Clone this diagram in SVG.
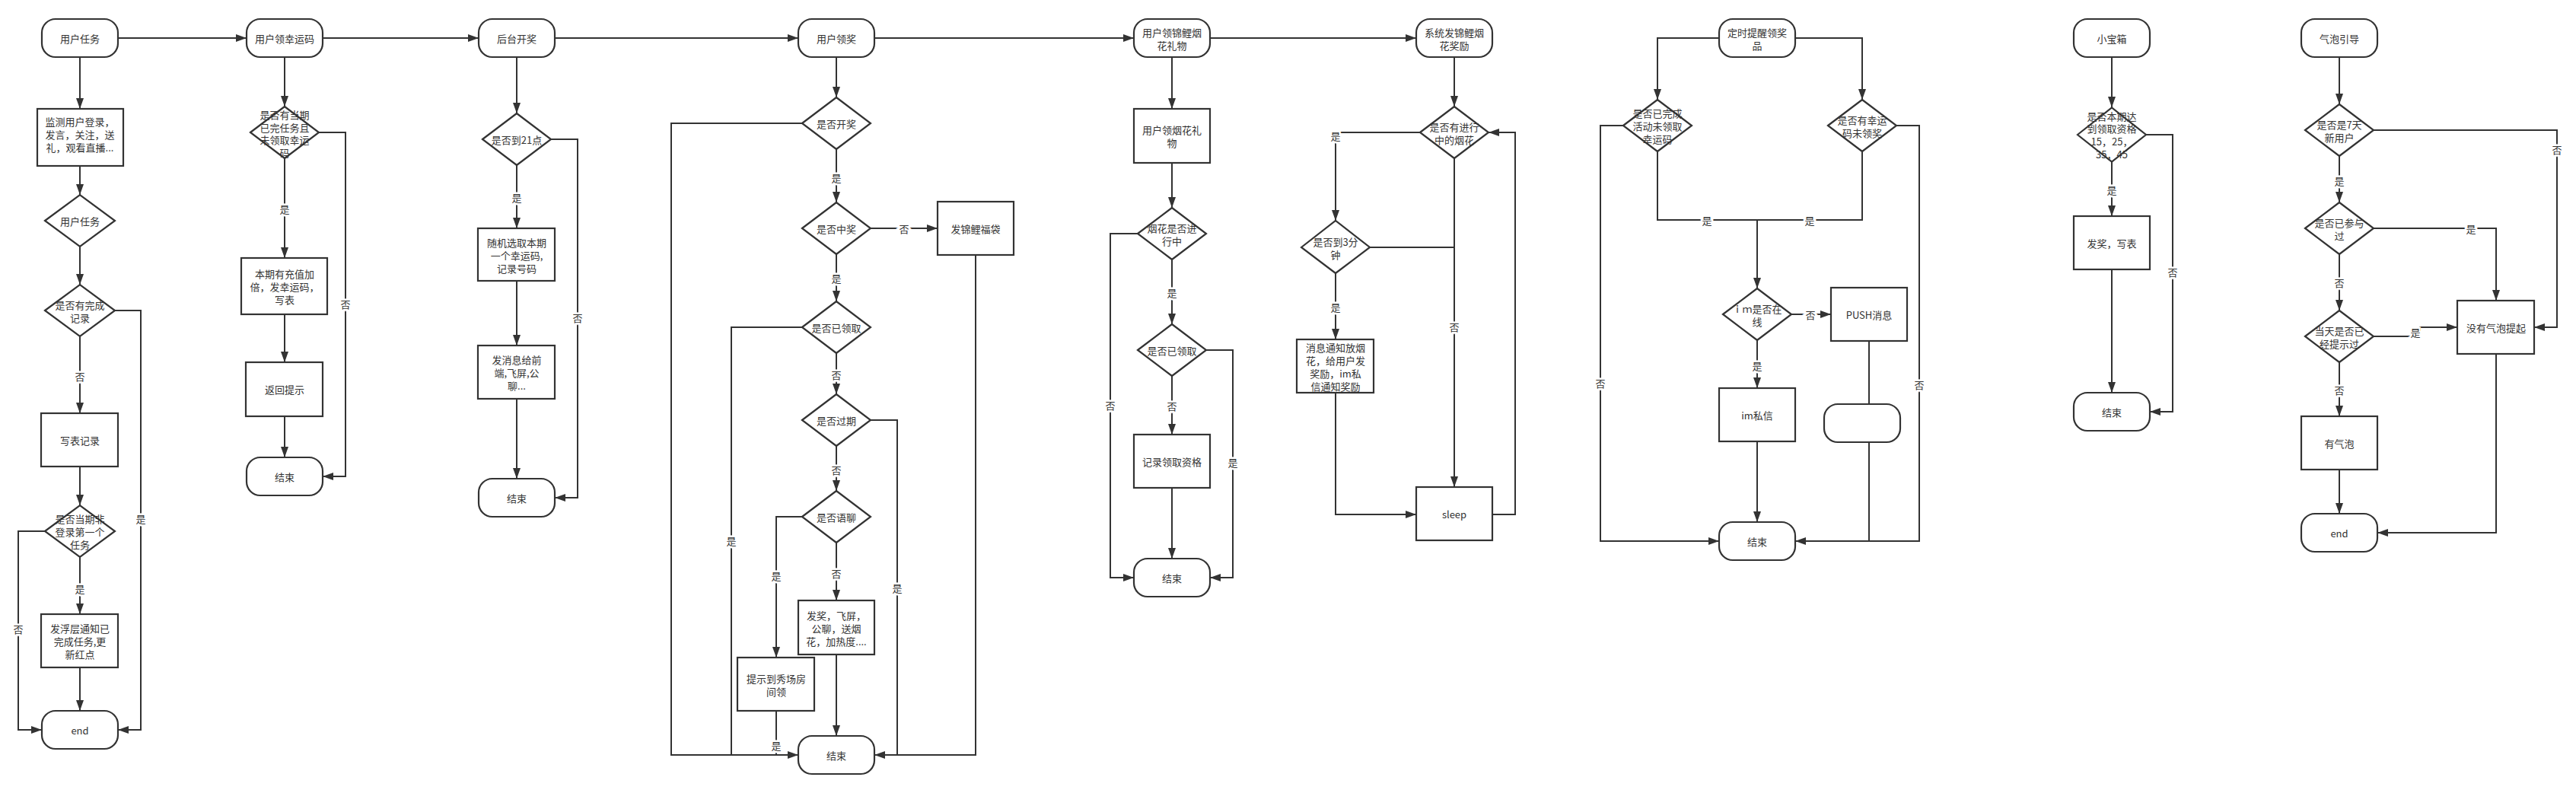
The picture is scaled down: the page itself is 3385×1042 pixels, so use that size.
<svg xmlns="http://www.w3.org/2000/svg" width="3385" height="1042" viewBox="0 0 3385 1042">
<defs>
<marker id="a" markerUnits="userSpaceOnUse" markerWidth="14" markerHeight="10" refX="14" refY="5" orient="auto"><path d="M0,0 L14,5 L0,10 z" fill="#333"/></marker>
<style>
.n{fill:#fff;stroke:#333;stroke-width:2.2}
.t{font-family:"Noto Sans CJK SC","Liberation Sans",sans-serif;font-size:13px;fill:#333;text-anchor:middle;dominant-baseline:central}
.c{fill:none;stroke:#333;stroke-width:2}
.ca{fill:none;stroke:#333;stroke-width:2;marker-end:url(#a)}
.l{font-family:"Noto Sans CJK SC","Liberation Sans",sans-serif;font-size:13px;fill:#333;text-anchor:middle;dominant-baseline:central;paint-order:stroke;stroke:#fff;stroke-width:5px}
</style>
</defs>
<rect width="3385" height="1042" fill="#fff"/>
<g id="connectors">
<!-- top chain -->
<path class="ca" d="M155,50 H324"/>
<path class="ca" d="M424,50 H629"/>
<path class="ca" d="M729,50 H1049"/>
<path class="ca" d="M1149,50 H1490"/>
<path class="ca" d="M1590,50 H1861"/>
<!-- column 1 -->
<path class="ca" d="M105,75 V143"/>
<path class="ca" d="M105,218 V256"/>
<path class="ca" d="M105,324 V374"/>
<path class="ca" d="M105,442 V543"/>
<path class="ca" d="M151,408 H185 V959 H155"/>
<path class="ca" d="M105,613 V664"/>
<path class="ca" d="M105,732 V807"/>
<path class="ca" d="M59,698 H24 V959 H55"/>
<path class="ca" d="M105,877 V934"/>
<!-- column 2 -->
<path class="ca" d="M374,75 V140"/>
<path class="ca" d="M374,208 V339"/>
<path class="ca" d="M374,413 V476"/>
<path class="ca" d="M374,547 V601"/>
<path class="ca" d="M419,174 H454 V626 H424"/>
<!-- column 3 -->
<path class="ca" d="M679,75 V149"/>
<path class="ca" d="M679,217 V300"/>
<path class="ca" d="M679,369 V454"/>
<path class="ca" d="M679,524 V629"/>
<path class="ca" d="M724,183 H759 V654 H729"/>
<!-- column 4 -->
<path class="ca" d="M1099,75 V128"/>
<path class="ca" d="M1054,162 H882 V992 H1049"/>
<path class="ca" d="M1099,196 V266"/>
<path class="ca" d="M1144,300 H1232"/>
<path class="ca" d="M1099,334 V396"/>
<path class="c" d="M1054,430 H961 V992"/>
<path class="ca" d="M1099,464 V518"/>
<path class="c" d="M1144,552 H1179 V992"/>
<path class="ca" d="M1282,335 V992 H1149"/>
<path class="ca" d="M1099,586 V645"/>
<path class="ca" d="M1054,679 H1020 V864"/>
<path class="ca" d="M1099,713 V789"/>
<path class="ca" d="M1099,860 V967"/>
<path class="c" d="M1020,934 V992"/>
<!-- column 5 -->
<path class="ca" d="M1540,75 V143"/>
<path class="ca" d="M1540,214 V273"/>
<path class="ca" d="M1495,307 H1459 V759 H1490"/>
<path class="ca" d="M1540,341 V426"/>
<path class="ca" d="M1585,460 H1620 V759 H1590"/>
<path class="ca" d="M1540,494 V571"/>
<path class="ca" d="M1540,641 V734"/>
<!-- column 6 -->
<path class="ca" d="M1911,75 V140"/>
<path class="ca" d="M1866,174 H1755 V290"/>
<path class="ca" d="M1911,208 V640"/>
<path class="c" d="M1800,325 H1911"/>
<path class="ca" d="M1755,359 V446"/>
<path class="ca" d="M1755,516 V676 H1861"/>
<path class="ca" d="M1961,676 H1991 V174 H1956"/>
<!-- column 7 -->
<path class="ca" d="M2259,50 H2178 V131"/>
<path class="ca" d="M2359,50 H2447 V131"/>
<path class="c" d="M2178,199 V289 H2447 V199"/>
<path class="ca" d="M2309,289 V379"/>
<path class="ca" d="M2133,165 H2103 V711 H2259"/>
<path class="ca" d="M2354,413 H2406"/>
<path class="ca" d="M2309,447 V510"/>
<path class="ca" d="M2309,580 V686"/>
<path class="c" d="M2456,448 V531"/>
<path class="c" d="M2456,581 V711"/>
<path class="ca" d="M2492,165 H2522 V711 H2359"/>
<!-- column 8 -->
<path class="ca" d="M2775,75 V141"/>
<path class="ca" d="M2775,213 V284"/>
<path class="ca" d="M2775,354 V516"/>
<path class="ca" d="M2820,177 H2855 V541 H2825"/>
<!-- column 9 -->
<path class="ca" d="M3074,75 V137"/>
<path class="ca" d="M3119,171 H3360 V430 H3330"/>
<path class="ca" d="M3074,205 V266"/>
<path class="ca" d="M3119,300 H3280 V395"/>
<path class="ca" d="M3074,334 V408"/>
<path class="ca" d="M3119,442 H3180 V430 H3229"/>
<path class="ca" d="M3074,476 V547"/>
<path class="ca" d="M3074,617 V675"/>
<path class="ca" d="M3280,465 V700 H3124"/>
<!-- labels -->
<text class="l" x="105" y="494">否</text>
<text class="l" x="185" y="681">是</text>
<text class="l" x="105" y="773">是</text>
<text class="l" x="24" y="826">否</text>
<text class="l" x="374" y="274">是</text>
<text class="l" x="454" y="399">否</text>
<text class="l" x="679" y="259">是</text>
<text class="l" x="759" y="417">否</text>
<text class="l" x="1099" y="233">是</text>
<text class="l" x="1188" y="300">否</text>
<text class="l" x="1099" y="365">是</text>
<text class="l" x="961" y="710">是</text>
<text class="l" x="1099" y="492">否</text>
<text class="l" x="1179" y="772">是</text>
<text class="l" x="1099" y="617">否</text>
<text class="l" x="1020" y="756">是</text>
<text class="l" x="1099" y="753">否</text>
<text class="l" x="1020" y="979">是</text>
<text class="l" x="1459" y="532">否</text>
<text class="l" x="1540" y="384">是</text>
<text class="l" x="1620" y="607">是</text>
<text class="l" x="1540" y="533">否</text>
<text class="l" x="1755" y="178">是</text>
<text class="l" x="1911" y="429">否</text>
<text class="l" x="1755" y="403">是</text>
<text class="l" x="2243" y="289">是</text>
<text class="l" x="2378" y="289">是</text>
<text class="l" x="2103" y="503">否</text>
<text class="l" x="2379" y="413">否</text>
<text class="l" x="2309" y="480">是</text>
<text class="l" x="2522" y="505">否</text>
<text class="l" x="2775" y="249">是</text>
<text class="l" x="2855" y="357">否</text>
<text class="l" x="3360" y="196">否</text>
<text class="l" x="3074" y="237">是</text>
<text class="l" x="3247" y="300">是</text>
<text class="l" x="3074" y="371">否</text>
<text class="l" x="3174" y="436">是</text>
<text class="l" x="3074" y="512">否</text>
</g>
<!-- column 1 -->
<g id="n-user-task"><rect class="n" x="55" y="25" width="100" height="50" rx="18"/><text class="t" x="105" y="50">用户任务</text></g>
<g id="n-monitor"><rect class="n" x="49" y="143" width="113" height="75"/><text class="t"><tspan x="105" y="159">监测用户登录，</tspan><tspan x="105" y="176">发言，关注，送</tspan><tspan x="105" y="193">礼，观看直播...</tspan></text></g>
<g id="n-task-d"><polygon class="n" points="59,290 105,256 151,290 105,324"/><text class="t" x="105" y="290">用户任务</text></g>
<g id="n-has-record"><polygon class="n" points="59,408 105,374 151,408 105,442"/><text class="t"><tspan x="105" y="399.5">是否有完成</tspan><tspan x="105" y="416.5">记录</tspan></text></g>
<g id="n-write-record"><rect class="n" x="54" y="543" width="101" height="70"/><text class="t" x="105" y="578">写表记录</text></g>
<g id="n-first-task"><polygon class="n" points="59,698 105,664 151,698 105,732"/><text class="t"><tspan x="105" y="681">是否当期非</tspan><tspan x="105" y="698">登录第一个</tspan><tspan x="105" y="715">任务</tspan></text></g>
<g id="n-float-notice"><rect class="n" x="54" y="807" width="101" height="70"/><text class="t"><tspan x="105" y="825">发浮层通知已</tspan><tspan x="105" y="842">完成任务,更</tspan><tspan x="105" y="859">新红点</tspan></text></g>
<g id="n-end1"><rect class="n" x="55" y="934" width="100" height="50" rx="18"/><text class="t" x="105" y="959">end</text></g>
<!-- column 2 -->
<g id="n-lucky-code"><rect class="n" x="324" y="25" width="100" height="50" rx="18"/><text class="t" x="374" y="50">用户领幸运码</text></g>
<g id="n-lucky-d"><polygon class="n" points="329,174 374,140 419,174 374,208"/><text class="t"><tspan x="374" y="150">是否有当期</tspan><tspan x="374" y="166.5">已完任务且</tspan><tspan x="374" y="183">未领取幸运</tspan><tspan x="374" y="199.5">码</tspan></text></g>
<g id="n-double"><rect class="n" x="317" y="339" width="113" height="74"/><text class="t"><tspan x="374" y="359">本期有充值加</tspan><tspan x="374" y="376">倍，发幸运码，</tspan><tspan x="374" y="393">写表</tspan></text></g>
<g id="n-return-tip"><rect class="n" x="323" y="476" width="101" height="71"/><text class="t" x="374" y="511">返回提示</text></g>
<g id="n-end2"><rect class="n" x="324" y="601" width="100" height="50" rx="18"/><text class="t" x="374" y="626">结束</text></g>
<!-- column 3 -->
<g id="n-draw"><rect class="n" x="629" y="25" width="100" height="50" rx="18"/><text class="t" x="679" y="50">后台开奖</text></g>
<g id="n-21"><polygon class="n" points="634,183 679,149 724,183 679,217"/><text class="t" x="679" y="183">是否到21点</text></g>
<g id="n-random"><rect class="n" x="628" y="300" width="101" height="69"/><text class="t"><tspan x="679" y="318">随机选取本期</tspan><tspan x="679" y="335">一个幸运码,</tspan><tspan x="679" y="352">记录号码</tspan></text></g>
<g id="n-send-msg"><rect class="n" x="628" y="454" width="101" height="70"/><text class="t"><tspan x="679" y="472">发消息给前</tspan><tspan x="679" y="489">端,飞屏,公</tspan><tspan x="679" y="506">聊...</tspan></text></g>
<g id="n-end3"><rect class="n" x="629" y="629" width="100" height="50" rx="18"/><text class="t" x="679" y="654">结束</text></g>
<!-- column 4 -->
<g id="n-claim"><rect class="n" x="1049" y="25" width="100" height="50" rx="18"/><text class="t" x="1099" y="50">用户领奖</text></g>
<g id="n-opened"><polygon class="n" points="1054,162 1099,128 1144,162 1099,196"/><text class="t" x="1099" y="162">是否开奖</text></g>
<g id="n-won"><polygon class="n" points="1054,300 1099,266 1144,300 1099,334"/><text class="t" x="1099" y="300">是否中奖</text></g>
<g id="n-bag"><rect class="n" x="1232" y="265" width="100" height="70"/><text class="t" x="1282" y="300">发锦鲤福袋</text></g>
<g id="n-claimed"><polygon class="n" points="1054,430 1099,396 1144,430 1099,464"/><text class="t" x="1099" y="430">是否已领取</text></g>
<g id="n-expired"><polygon class="n" points="1054,552 1099,518 1144,552 1099,586"/><text class="t" x="1099" y="552">是否过期</text></g>
<g id="n-voice"><polygon class="n" points="1054,679 1099,645 1144,679 1099,713"/><text class="t" x="1099" y="679">是否语聊</text></g>
<g id="n-award"><rect class="n" x="1049" y="789" width="100" height="71"/><text class="t"><tspan x="1099" y="808">发奖，飞屏，</tspan><tspan x="1099" y="825">公聊，送烟</tspan><tspan x="1099" y="842">花，加热度....</tspan></text></g>
<g id="n-show-room"><rect class="n" x="969" y="864" width="101" height="70"/><text class="t"><tspan x="1020" y="890.5">提示到秀场房</tspan><tspan x="1020" y="907.5">间领</tspan></text></g>
<g id="n-end4"><rect class="n" x="1049" y="967" width="100" height="50" rx="18"/><text class="t" x="1099" y="992">结束</text></g>
<!-- column 5 -->
<g id="n-firework-gift"><rect class="n" x="1490" y="25" width="100" height="50" rx="18"/><text class="t"><tspan x="1540" y="41.5">用户领锦鲤烟</tspan><tspan x="1540" y="58.5">花礼物</tspan></text></g>
<g id="n-fw-gift-r"><rect class="n" x="1490" y="143" width="100" height="71"/><text class="t"><tspan x="1540" y="170">用户领烟花礼</tspan><tspan x="1540" y="187">物</tspan></text></g>
<g id="n-fw-ongoing"><polygon class="n" points="1495,307 1540,273 1585,307 1540,341"/><text class="t"><tspan x="1540" y="298.5">烟花是否进</tspan><tspan x="1540" y="315.5">行中</tspan></text></g>
<g id="n-fw-claimed"><polygon class="n" points="1495,460 1540,426 1585,460 1540,494"/><text class="t" x="1540" y="460">是否已领取</text></g>
<g id="n-record-q"><rect class="n" x="1490" y="571" width="100" height="70"/><text class="t" x="1540" y="606">记录领取资格</text></g>
<g id="n-end5"><rect class="n" x="1490" y="734" width="100" height="50" rx="18"/><text class="t" x="1540" y="759">结束</text></g>
<!-- column 6 -->
<g id="n-sys-fw"><rect class="n" x="1861" y="25" width="100" height="50" rx="18"/><text class="t"><tspan x="1911" y="41.5">系统发锦鲤烟</tspan><tspan x="1911" y="58.5">花奖励</tspan></text></g>
<g id="n-fw-running"><polygon class="n" points="1866,174 1911,140 1956,174 1911,208"/><text class="t"><tspan x="1911" y="165.5">是否有进行</tspan><tspan x="1911" y="182.5">中的烟花</tspan></text></g>
<g id="n-3min"><polygon class="n" points="1710,325 1755,290 1800,325 1755,359"/><text class="t"><tspan x="1755" y="316.5">是否到3分</tspan><tspan x="1755" y="333.5">钟</tspan></text></g>
<g id="n-notify"><rect class="n" x="1704" y="446" width="101" height="70"/><text class="t"><tspan x="1755" y="455.5">消息通知放烟</tspan><tspan x="1755" y="472.5">花，给用户发</tspan><tspan x="1755" y="489.5">奖励，im私</tspan><tspan x="1755" y="506.5">信通知奖励</tspan></text></g>
<g id="n-sleep"><rect class="n" x="1861" y="640" width="100" height="70"/><text class="t" x="1911" y="675">sleep</text></g>
<!-- column 7 -->
<g id="n-remind"><rect class="n" x="2259" y="25" width="100" height="50" rx="18"/><text class="t"><tspan x="2309" y="41.5">定时提醒领奖</tspan><tspan x="2309" y="58.5">品</tspan></text></g>
<g id="n-done-unclaimed"><polygon class="n" points="2133,165 2178,131 2223,165 2178,199"/><text class="t"><tspan x="2178" y="148">是否已完成</tspan><tspan x="2178" y="165">活动未领取</tspan><tspan x="2178" y="182">幸运码</tspan></text></g>
<g id="n-code-unclaimed"><polygon class="n" points="2402,165 2447,131 2492,165 2447,199"/><text class="t"><tspan x="2447" y="156.5">是否有幸运</tspan><tspan x="2447" y="173.5">码未领奖</tspan></text></g>
<g id="n-im-online"><polygon class="n" points="2264,413 2309,379 2354,413 2309,447"/><text class="t"><tspan x="2309" y="404.5">ｉｍ是否在</tspan><tspan x="2309" y="421.5">线</tspan></text></g>
<g id="n-push"><rect class="n" x="2406" y="378" width="100" height="70"/><text class="t" x="2456" y="413">PUSH消息</text></g>
<g id="n-im-msg"><rect class="n" x="2259" y="510" width="100" height="70"/><text class="t" x="2309" y="545">im私信</text></g>
<g id="n-blank"><rect class="n" x="2397" y="531" width="100" height="50" rx="18"/></g>
<g id="n-end7"><rect class="n" x="2259" y="686" width="100" height="50" rx="18"/><text class="t" x="2309" y="711">结束</text></g>
<!-- column 8 -->
<g id="n-box"><rect class="n" x="2725" y="25" width="100" height="50" rx="18"/><text class="t" x="2775" y="50">小宝箱</text></g>
<g id="n-box-d"><polygon class="n" points="2730,177 2775,141.5 2820,177 2775,212.5"/><text class="t"><tspan x="2775" y="152">是否本期达</tspan><tspan x="2775" y="168">到领取资格</tspan><tspan x="2775" y="185">15，25，</tspan><tspan x="2775" y="202">35，45</tspan></text></g>
<g id="n-box-award"><rect class="n" x="2725" y="284" width="100" height="70"/><text class="t" x="2775" y="319">发奖，写表</text></g>
<g id="n-end8"><rect class="n" x="2725" y="516" width="100" height="50" rx="18"/><text class="t" x="2775" y="541">结束</text></g>
<!-- column 9 -->
<g id="n-bubble"><rect class="n" x="3024" y="25" width="100" height="50" rx="18"/><text class="t" x="3074" y="50">气泡引导</text></g>
<g id="n-7day"><polygon class="n" points="3029,171 3074,137 3119,171 3074,205"/><text class="t"><tspan x="3074" y="162.5">是否是7天</tspan><tspan x="3074" y="179.5">新用户</tspan></text></g>
<g id="n-joined"><polygon class="n" points="3029,300 3074,266 3119,300 3074,334"/><text class="t"><tspan x="3074" y="291.5">是否已参与</tspan><tspan x="3074" y="308.5">过</tspan></text></g>
<g id="n-today"><polygon class="n" points="3029,442 3074,408 3119,442 3074,476"/><text class="t"><tspan x="3074" y="433.5">当天是否已</tspan><tspan x="3074" y="450.5">经提示过</tspan></text></g>
<g id="n-no-bubble"><rect class="n" x="3229" y="395" width="101" height="70"/><text class="t" x="3280" y="430">没有气泡提起</text></g>
<g id="n-has-bubble"><rect class="n" x="3024" y="547" width="100" height="70"/><text class="t" x="3074" y="582">有气泡</text></g>
<g id="n-end9"><rect class="n" x="3024" y="675" width="100" height="50" rx="18"/><text class="t" x="3074" y="700">end</text></g>
</svg>
